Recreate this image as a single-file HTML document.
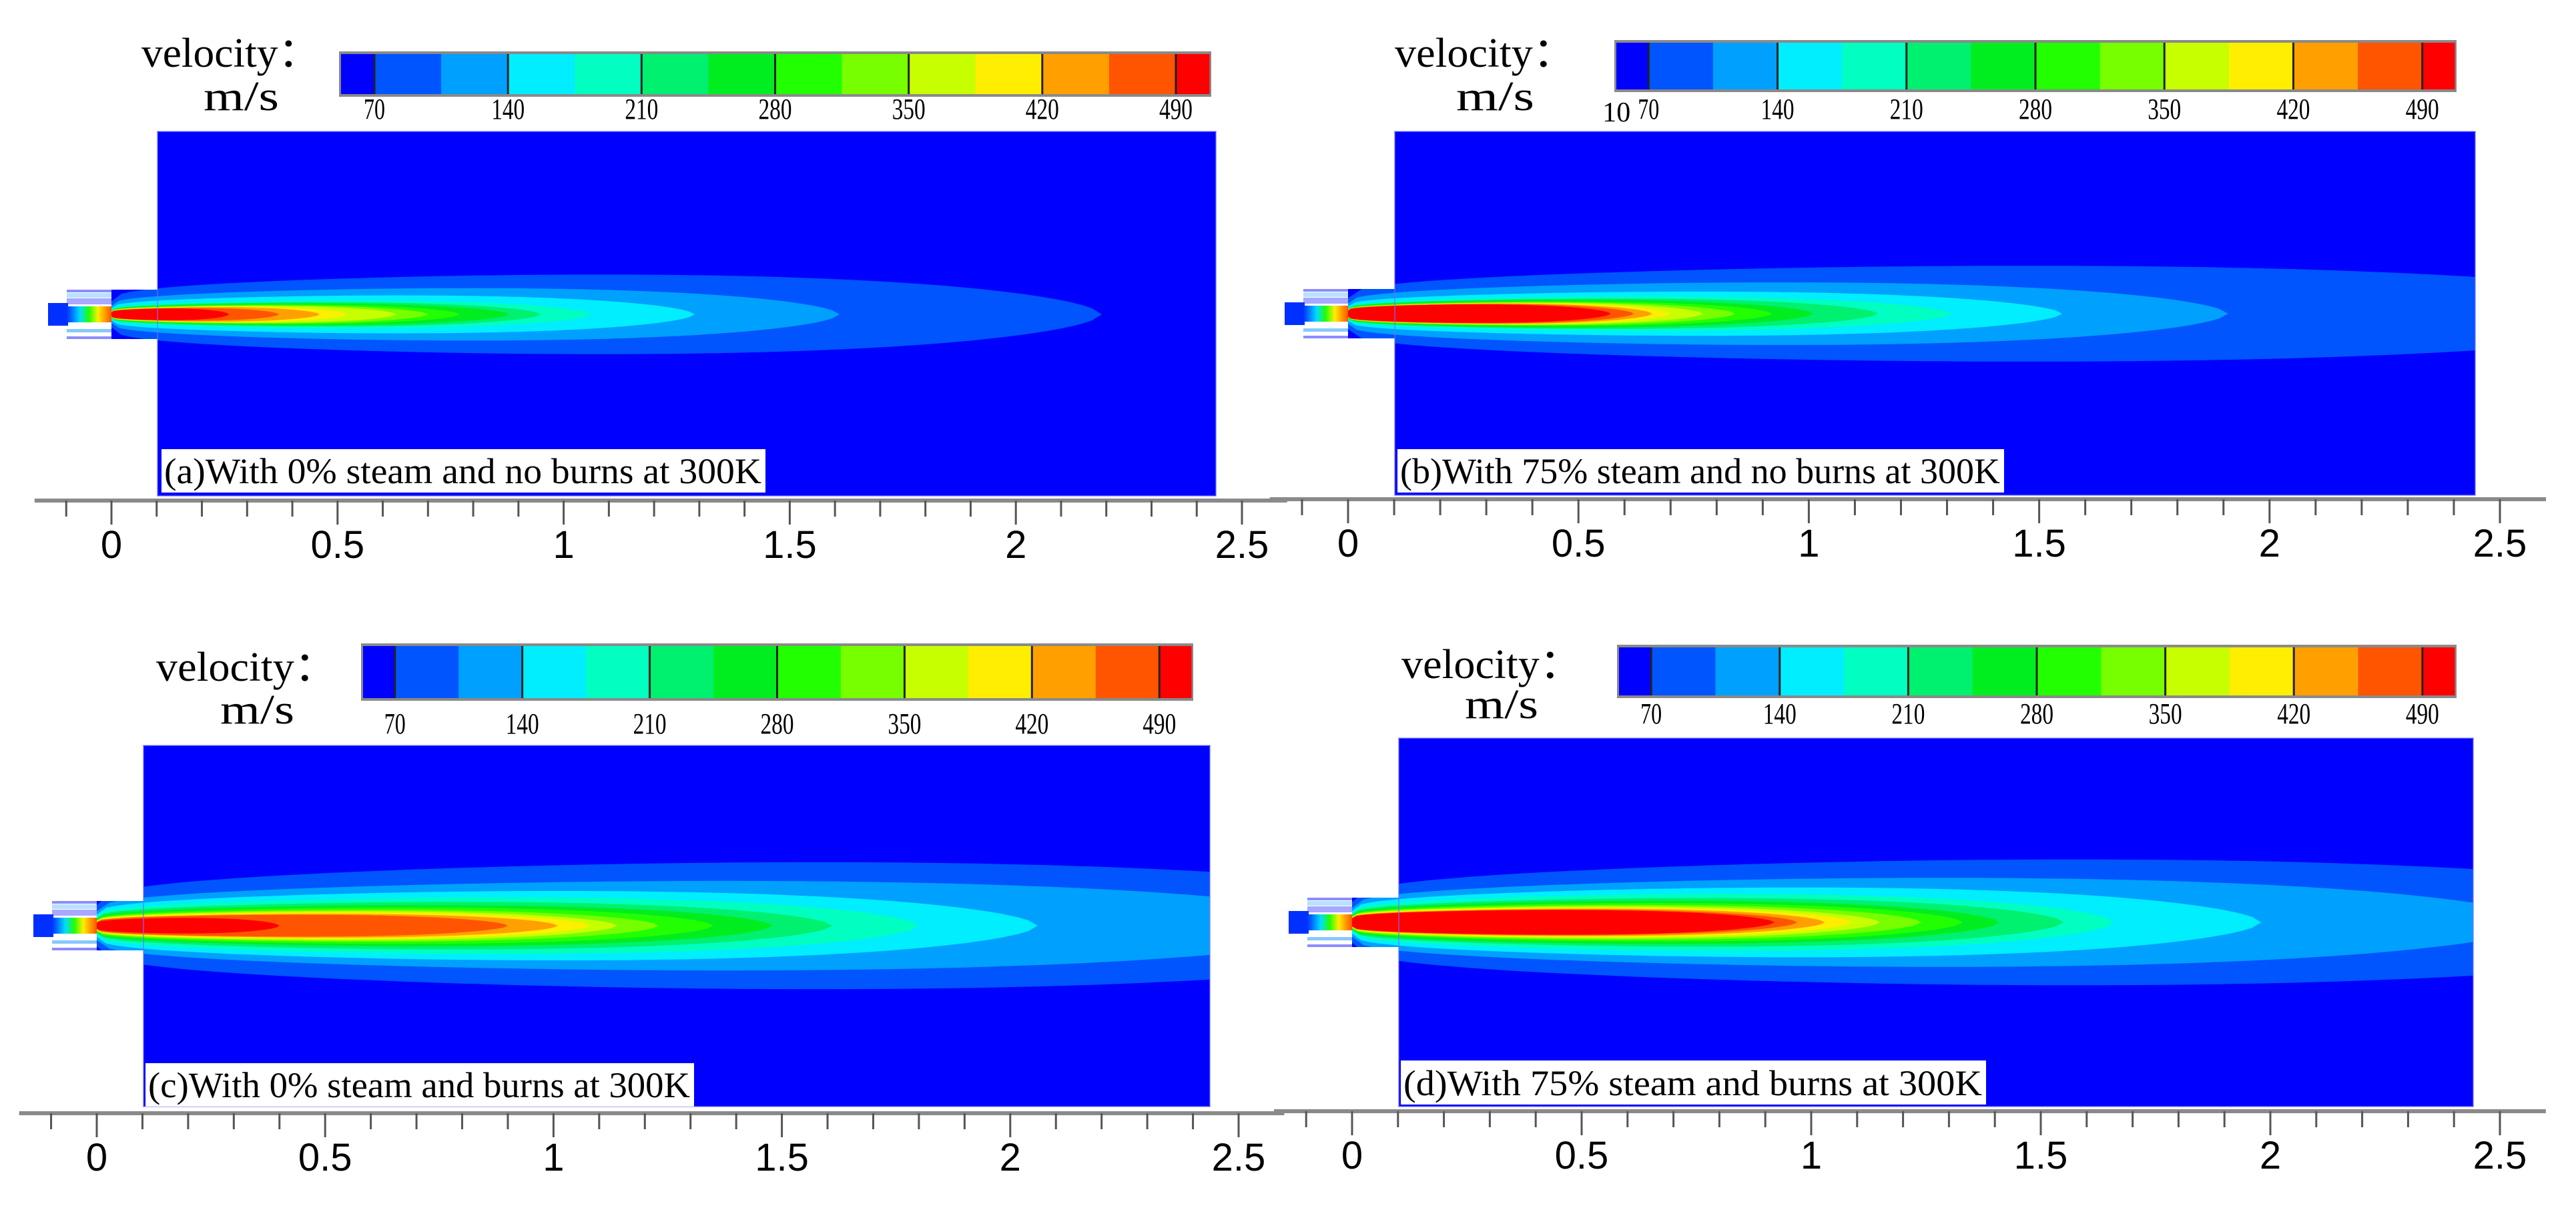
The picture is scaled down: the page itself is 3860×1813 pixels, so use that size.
<!DOCTYPE html>
<html><head><meta charset="utf-8"><style>
html,body{margin:0;padding:0;background:#fff;}
svg{display:block;}
text{font-family:"Liberation Serif",serif;fill:#000;}
.ax{font-family:"Liberation Sans",sans-serif;}
</style></head><body>
<svg id="fig" xmlns="http://www.w3.org/2000/svg" width="3860" height="1813" viewBox="0 0 3860 1813"></svg>
<script>
// ---- data ----
const tickValues = [-0.1,0,0.1,0.2,0.3,0.4,0.5,0.6,0.7,0.8,0.9,1.0,1.1,1.2,1.3,1.4,1.5,1.6,1.7,1.8,1.9,2.0,2.1,2.2,2.3,2.4,2.5];
const tickLabels = ["0","0.5","1","1.5","2","2.5"];
const tickLabelValues = [0,0.5,1,1.5,2,2.5];
const cbLabelValues = [70,140,210,280,350,420,490];
const levelColors = ["#0000ff","#0055ff","#00a0ff","#00eeff","#00ffc0","#00f070","#00ee20","#22ff00","#77ff00","#c8ff00","#ffee00","#ffa000","#ff5500","#ff0000"];
const titles = ["(a)With 0% steam and no burns at 300K","(b)With 75% steam and no burns at 300K","(c)With 0% steam and burns at 300K","(d)With 75% steam and burns at 300K"];
// contour lengths (m) for each velocity level, per case
const lengthsA = [2.19,1.61,1.29,1.06,0.95,0.88,0.77,0.70,0.63,0.52,0.46,0.37,0.26];
const lengthsB = [3.0,1.91,1.55,1.31,1.15,1.01,0.92,0.84,0.77,0.70,0.66,0.62,0.57];
const lengthsC = [3.2,2.8,2.06,1.80,1.61,1.48,1.35,1.23,1.14,1.08,1.01,0.90,0.40];
const lengthsD = [3.2,2.6,1.98,1.66,1.55,1.41,1.33,1.24,1.15,1.09,1.03,0.97,0.92];
// contour max half-widths (m)
const halfA = [0.088,0.058,0.042,0.031,0.027,0.024,0.022,0.020,0.019,0.017,0.016,0.014,0.013];
const halfB = [0.104,0.068,0.048,0.037,0.033,0.030,0.027,0.025,0.024,0.023,0.022,0.021,0.020];
const halfC = [0.139,0.098,0.076,0.062,0.052,0.045,0.040,0.035,0.032,0.029,0.026,0.024,0.017];
const halfD = [0.137,0.097,0.076,0.062,0.053,0.047,0.042,0.038,0.035,0.032,0.030,0.028,0.027];

// ---- layout ----
const layouts = [
 {x0:167,sc:677.6,cy:471,dL:236,dR:1822,dT:197,dB:743,axY:750,cb:[511,81,1301,60],cbLy:178,vel:[212,100,268],ms:[305,165,113],box:[242,673,905,65],len:lengthsA,hw:halfA},
 {x0:2020,sc:690.4,cy:470,dL:2090,dR:3709,dT:197,dB:742,axY:748,cb:[2422,64,1256,70],cbLy:178,vel:[2090,100,271],ms:[2182,165,117],box:[2094,673,909,65],len:lengthsB,hw:halfB},
 {x0:145,sc:684.4,cy:1387,dL:215,dR:1813,dT:1117,dB:1658,axY:1668,cb:[544,968,1241,78],cbLy:1099,vel:[234,1020,271],ms:[330,1084,111],box:[218,1593,822,65],len:lengthsC,hw:halfC},
 {x0:2026,sc:688,cy:1382,dL:2096,dR:3706,dT:1106,dB:1658,axY:1665,cb:[2426,970,1252,72],cbLy:1084,vel:[2100,1016,271],ms:[2195,1076,110],box:[2099,1589,877,66],len:lengthsD,hw:halfD}
];
const NS="http://www.w3.org/2000/svg";
const svg=document.getElementById('fig');
function mk(tag,attrs,parent){const e=document.createElementNS(NS,tag);for(const k in attrs)e.setAttribute(k,attrs[k]);(parent||svg).appendChild(e);return e;}

function shape(t){return (0.25+0.75*Math.pow(t,0.35))*Math.pow(Math.max(0,1-Math.pow(t,3)),0.6);}
let gmax=0;for(let i=0;i<=1000;i++){gmax=Math.max(gmax,shape(i/1000));}

layouts.forEach((P,pi)=>{
  const g=mk('g',{});
  
  
  const X=v=>P.x0+v*P.sc;
  const dh=P.sc;
  const ductHalf=37, noz=67, tip=28;
  const cp=mk('clipPath',{id:'clip'+pi},g);
  mk('rect',{x:P.dL,y:P.dT,width:P.dR-P.dL,height:P.dB-P.dT},cp);
  mk('rect',{x:P.x0,y:P.cy-ductHalf,width:P.dL-P.x0+1,height:2*ductHalf},cp);
  const cg=mk('g',{'clip-path':'url(#clip'+pi+')'},g);
  const bg=mk('rect',{x:P.x0,y:P.dT,width:P.dR-P.x0,height:P.dB-P.dT,fill:levelColors[0]},cg);
  
  
  P.len.forEach((L,k)=>{
    const W=P.hw[k];const N=100;let top=[],bot=[];
    for(let i=0;i<=N;i++){const t=i/N;const h=W*shape(t)/gmax;const x=X(L*t);
      top.push(x.toFixed(1)+','+(P.cy-h*dh).toFixed(1));bot.unshift(x.toFixed(1)+','+(P.cy+h*dh).toFixed(1));}
    const p=mk('polygon',{points:top.concat(bot).join(' '),fill:levelColors[k+1]},cg);
    
    
  });
  mk('rect',{x:P.dL,y:P.dT,width:P.dR-P.dL,height:P.dB-P.dT,fill:'none',stroke:'#7070ff','stroke-width':2,'stroke-opacity':0.6},g);
  const nz=mk('g',{},g);
  
  
  const nx=P.x0-noz, cy=P.cy;
  mk('rect',{x:nx,y:cy-ductHalf,width:noz,height:4,fill:'#8c8cff'},nz);
  mk('rect',{x:nx,y:cy-ductHalf+5,width:noz,height:7,fill:'#b8e0ff'},nz);
  mk('rect',{x:nx,y:cy-ductHalf+13,width:noz,height:9,fill:'#a8a8ff'},nz);
  mk('rect',{x:nx,y:cy+ductHalf-15,width:noz,height:5,fill:'#88c8ff'},nz);
  mk('rect',{x:nx,y:cy+ductHalf-4,width:noz,height:4,fill:'#8c8cff'},nz);
  const gr=mk('linearGradient',{id:'ng'+pi,x1:0,x2:1,y1:0,y2:0},nz);
  [['0','#0030ff'],['0.3','#00ddff'],['0.5','#22ff00'],['0.7','#ffee00'],['0.85','#ffa000'],['1','#ff5500']].forEach(s=>mk('stop',{offset:s[0],'stop-color':s[1]},gr));
  mk('rect',{x:P.x0-tip-noz,y:cy-17,width:tip+2,height:34,fill:'#0030ff'},nz);
  mk('rect',{x:nx,y:cy-12,width:noz,height:24,fill:'url(#ng'+pi+')'},nz);
  const ax=mk('g',{},g);
  
  
  mk('rect',{x:X(-0.17),y:P.axY-3,width:X(2.6)-X(-0.17),height:6,fill:'#8a8a8a'},ax);
  tickValues.forEach(v=>{
    const major=Math.abs(v*2-Math.round(v*2))<1e-6;
    const tk=mk('rect',{x:X(v)-1.5,y:P.axY,width:3,height:major?36:24,fill:'#555'},ax);
    
    
  });
  tickLabelValues.forEach((v,i)=>{
    const t=mk('text',{x:X(v),y:P.axY+86,'text-anchor':'middle','font-size':58,class:'ax'},ax);
    t.textContent=tickLabels[i];
    
    
  });
  const cb=mk('g',{},g);
  
  
  const [cx,cyb,cw,ch]=P.cb;const unit=cw/13;
  const vx=v=>cx+(v-52.5)/35*unit;
  mk('rect',{x:cx-3,y:cyb-4,width:cw+6,height:ch+8,fill:'#8a8a8a'},cb);
  for(let i=0;i<14;i++){
    const a=i===0?0:0.5+(i-1);const b=i===0?0.5:(i===13?13:0.5+i);
    const r=mk('rect',{x:cx+a*unit,y:cyb,width:(b-a)*unit+0.5,height:ch,fill:levelColors[i]},cb);
    
    
  }
  cbLabelValues.forEach(v=>{
    mk('rect',{x:vx(v)-1.5,y:cyb,width:3,height:ch,fill:'#222'},cb);
    const t=mk('text',{x:vx(v),y:P.cbLy,'text-anchor':'middle','font-size':44,textLength:v<100?32:50,lengthAdjust:'spacingAndGlyphs'},cb);
    t.textContent=String(v);
    
    
  });
  if(pi===1){const t=mk('text',{x:vx(70)-48,y:P.cbLy+4,'text-anchor':'middle','font-size':42,fill:'#444'},cb);t.textContent='10';
    
    }
  const vt=mk('text',{x:P.vel[0],y:P.vel[1],'font-size':62,textLength:P.vel[2],lengthAdjust:'spacingAndGlyphs'},g);
  vt.textContent='velocity：';
  
  
  const mt=mk('text',{x:P.ms[0],y:P.ms[1],'font-size':62,textLength:P.ms[2],lengthAdjust:'spacingAndGlyphs'},g);
  mt.textContent='m/s';
  
  
  const [bx,by,bw,bh]=P.box;
  const br=mk('rect',{x:bx,y:by,width:bw,height:bh,fill:'#fff'},g);
  
  
  const ct=mk('text',{x:bx+4,y:by+bh-14,'font-size':54,textLength:bw-10,lengthAdjust:'spacingAndGlyphs'},g);
  ct.textContent=titles[pi];
  
  
});
</script>
</body></html>
